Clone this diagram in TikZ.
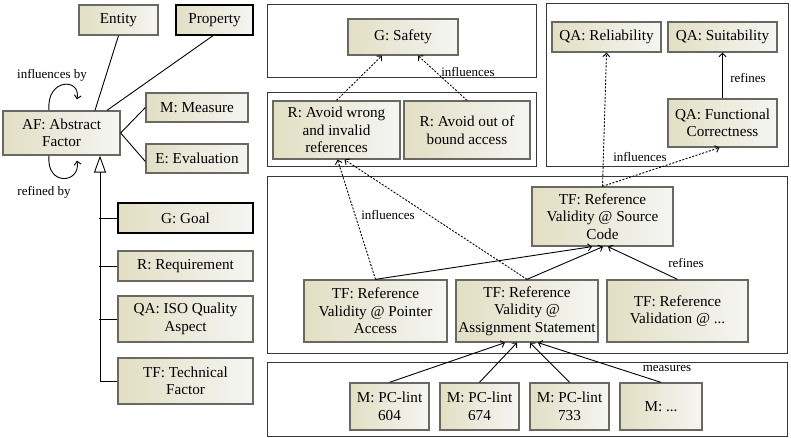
\documentclass[tikz,border=0pt]{standalone}
\usepackage{fontspec}
\setmainfont{Liberation Serif}
\usetikzlibrary{shapes,arrows}
\usetikzlibrary{arrows.meta}
\usetikzlibrary{shadows}

\definecolor{boxbeige}{RGB}{226,223,196}
\definecolor{boxlight}{RGB}{245,245,243}
\definecolor{boxedge}{RGB}{105,105,98}
\definecolor{groupedge}{RGB}{55,55,55}

\begin{document}
\begin{tikzpicture}[x=1pt, y=-1pt, font=\fontsize{15.2}{17.5}\selectfont]
\tikzstyle{block} = [rectangle, draw=boxedge, line width=1.3pt, left color=boxbeige,
    right color=boxlight, align=center, inner sep=1pt,
    drop shadow={opacity=0.25, shadow xshift=1.2pt, shadow yshift=-1.2pt}]
\tikzstyle{boldblock} = [block, draw=black]
\tikzstyle{group} = [draw=groupedge, line width=1pt]
\tikzstyle{line} = [draw, line width=0.9pt, -{Straight Barb[length=3.5pt,width=7pt]}]
\tikzstyle{dotline} = [line, dash pattern=on 2pt off 1.5pt]
\tikzstyle{plain} = [draw, line width=0.9pt]
\tikzstyle{edgelabel} = [font=\fontsize{13}{14}\selectfont, inner sep=0pt]

    \useasboundingbox (0,0) rectangle (791,438);
    % Groups
    \draw [group] (267,5) rectangle (536,78);
    \draw [group] (267,93) rectangle (536,167);
    \draw [group] (546,4) rectangle (788,167);
    \draw [group] (267,177) rectangle (787,353);
    \draw [group] (267,362) rectangle (787,436);

    % Place nodes (meta model)
    \node [block, minimum width=79, minimum height=30] (entity) at (118.5,20) {Entity};
    \node [boldblock, minimum width=77, minimum height=30] (property) at (214.5,20) {Property};
    \node [block, minimum width=117, minimum height=44] (af) at (61.5,133) {AF: Abstract\\Factor};
    \node [block, minimum width=102, minimum height=29] (measure) at (197,107.5) {M: Measure};
    \node [block, minimum width=102, minimum height=29] (evaluation) at (197,158.5) {E: Evaluation};
    \node [boldblock, minimum width=135, minimum height=30] (goal) at (185.5,218) {G: Goal};
    \node [block, minimum width=135, minimum height=30] (requirement) at (185.5,266) {R: Requirement};
    \node [block, minimum width=135, minimum height=46] (quality) at (185.5,319) {QA: ISO Quality\\Aspect};
    \node [block, minimum width=135, minimum height=46] (technical) at (185.5,381) {TF: Technical\\Factor};
    \node [edgelabel] (inflby) at (52,75) {influences by};
    \node [edgelabel] (refby) at (44,192) {refined by};

    % Place nodes (instance)
    \node [block, minimum width=110, minimum height=36] (safety) at (403,37) {G: Safety};
    \node [block, minimum width=127, minimum height=58] (rwrong) at (336.5,130) {R: Avoid wrong\\and invalid\\references};
    \node [block, minimum width=126, minimum height=58] (rbound) at (467,130) {R: Avoid out of\\bound access};
    \node [block, minimum width=109, minimum height=30] (reliab) at (606.5,37) {QA: Reliability};
    \node [block, minimum width=109, minimum height=30] (suitab) at (722.5,37) {QA: Suitability};
    \node [block, minimum width=109, minimum height=48] (funcor) at (722.5,123) {QA: Functional\\Correctness};
    \node [block, minimum width=141, minimum height=59] (source) at (602.5,216.5) {TF: Reference\\Validity @ Source\\Code};
    \node [block, minimum width=143, minimum height=62] (pointer) at (375.5,311) {TF: Reference\\Validity @ Pointer\\Access};
    \node [block, minimum width=142, minimum height=62] (assign) at (527,311) {TF: Reference\\Validity @\\Assignment Statement};
    \node [block, minimum width=141, minimum height=62] (valid) at (677.5,311) {TF: Reference\\Validation @ ...};
    \node [block, minimum width=79, minimum height=47] (lint604) at (389.5,406.5) {M: PC-lint\\604};
    \node [block, minimum width=79, minimum height=47] (lint674) at (479.5,406.5) {M: PC-lint\\674};
    \node [block, minimum width=79, minimum height=47] (lint733) at (569.5,406.5) {M: PC-lint\\733};
    \node [block, minimum width=82, minimum height=47] (lintmore) at (661,406.5) {M: ...};

    % Draw edges (meta model)
    \path [plain] (entity.south) -- ([xshift=33.5pt]af.north);
    \path [plain] ([xshift=-1.5pt]property.south) -- ([xshift=45.5pt]af.north);
    \path [plain] (af.east) -- (measure.west);
    \path [plain] (af.east) -- ([yshift=-3pt]evaluation.west);
    \path [line] ([xshift=-12.5pt]af.north) .. controls +(-3,-32) and +(4,-22) .. ([xshift=15.5pt,yshift=11pt]af.north);
    \path [line] ([xshift=-12.5pt]af.south) .. controls +(-3,31) and +(4,23) .. ([xshift=15.5pt,yshift=-5pt]af.south);
    \path [draw, line width=0.9pt, -{Triangle[open,length=17pt,width=12pt]}] (technical.west) -| ([xshift=38.5pt]af.south);
    \path [plain] (goal.west) -- +(-18,0);
    \path [plain] (requirement.west) -- +(-18,0);
    \path [plain] (quality.west) -- +(-18,0);

    % Draw edges (instance)
    \path [dotline] (rwrong.north) -- ([xshift=-21pt]safety.south);
    \path [dotline] (rbound.north) -- ([xshift=15pt]safety.south);
    \node [edgelabel] (inflsafety) at (468,72) {influences};
    \path [line] (funcor.north) -- (suitab.south);
    \node [edgelabel] (refqa) at (748,78) {refines};
    \path [dotline] (source.north) -- (reliab.south);
    \path [dotline] (source.north) -- ([xshift=-3pt]funcor.south);
    \node [edgelabel] (inflqa) at (640,157) {influences};
    \path [line] (pointer.north) -- ([xshift=-10.5pt]source.south);
    \path [line] (assign.north) -- ([xshift=0.5pt]source.south);
    \path [line] (valid.north) -- ([xshift=5.5pt]source.south);
    \node [edgelabel] (reftf) at (686,263) {refines};
    \path [dotline] (pointer.north) -- ([xshift=1pt]rwrong.south);
    \path [dotline] (assign.north) -- ([xshift=8pt]rwrong.south);
    \node [edgelabel] (infltf) at (388,215) {influences};
    \path [line] (lint604.north) -- ([xshift=-22pt]assign.south);
    \path [line] (lint674.north) -- ([xshift=-10pt]assign.south);
    \path [line] (lint733.north) -- ([xshift=3pt]assign.south);
    \path [line] (lintmore.north) -- ([xshift=11pt]assign.south);
    \node [edgelabel] (measures) at (667,368) {measures};
\end{tikzpicture}
\end{document}
